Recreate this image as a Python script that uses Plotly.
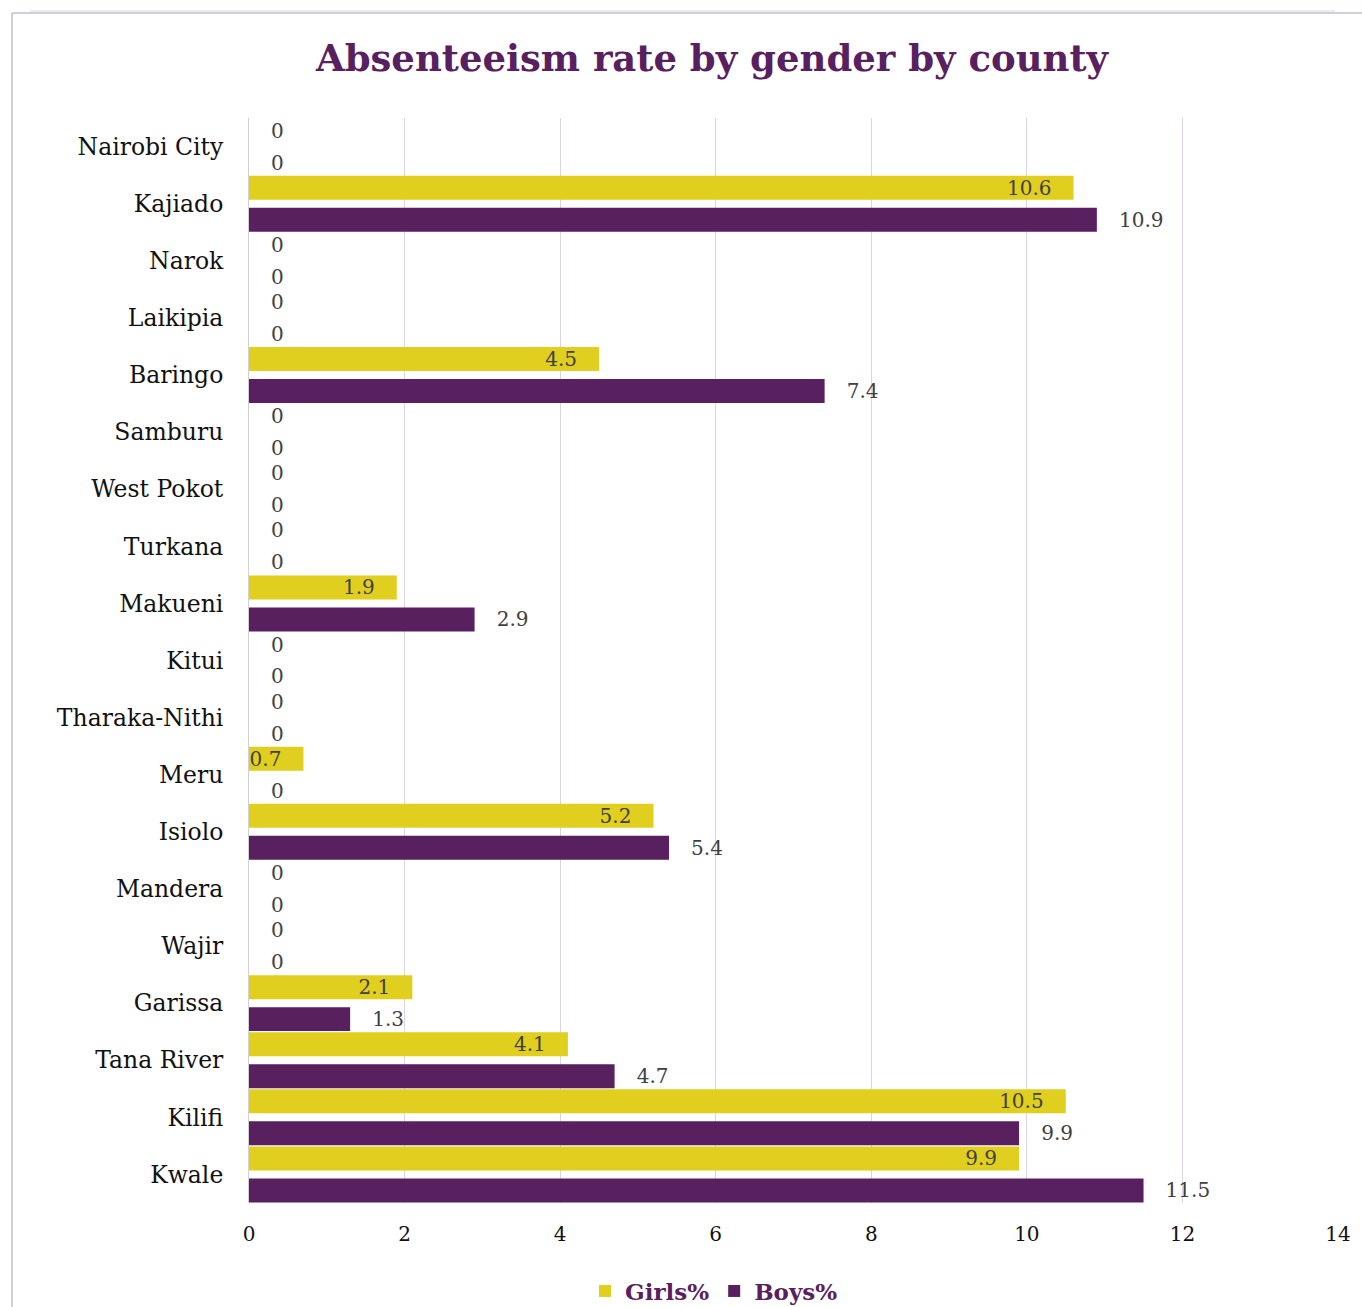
import plotly.graph_objects as go

counties = ["Nairobi City", "Kajiado", "Narok", "Laikipia", "Baringo", "Samburu",
            "West Pokot", "Turkana", "Makueni", "Kitui", "Tharaka-Nithi", "Meru",
            "Isiolo", "Mandera", "Wajir", "Garissa", "Tana River", "Kilifi", "Kwale"]
girls = [0, 10.6, 0, 0, 4.5, 0, 0, 0, 1.9, 0, 0, 0.7, 5.2, 0, 0, 2.1, 4.1, 10.5, 9.9]
boys = [0, 10.9, 0, 0, 7.4, 0, 0, 0, 2.9, 0, 0, 0, 5.4, 0, 0, 1.3, 4.7, 9.9, 11.5]
x_ticks = [0, 2, 4, 6, 8, 10, 12, 14]

YELLOW = "#E0CF1F"
PURPLE = "#58205F"
LABEL = "#404040"
SERIF = "DejaVu Serif"
NB = "\u00a0"

W, H = 1362, 1307
ML, MR, MT, MB = 249, 24, 118, 104

BAR_W = 0.42
GIRLS_OFF = -0.49
BOYS_OFF = 0.07

def fmt(v):
    return "0" if v == 0 else f"{v:g}"

girls_text = [(fmt(v) + NB * 3) if v > 0 else (NB * 3 + fmt(v)) for v in girls]
girls_pos = ["inside" if v > 0 else "outside" for v in girls]
boys_text = [NB * 3 + fmt(v) for v in boys]

lab_font = dict(family=SERIF, size=20, color=LABEL)

fig = go.Figure()
fig.add_trace(go.Bar(
    y=counties, x=girls, name="<b>Girls%</b>", orientation="h",
    width=BAR_W, offset=GIRLS_OFF,
    marker=dict(color=YELLOW, line=dict(width=0)),
    text=girls_text, textposition=girls_pos, insidetextanchor="end",
    textangle=0, constraintext="none",
    textfont=lab_font, insidetextfont=lab_font, outsidetextfont=lab_font,
    cliponaxis=False,
))
fig.add_trace(go.Bar(
    y=counties, x=boys, name="<b>Boys%</b>", orientation="h",
    width=BAR_W, offset=BOYS_OFF,
    marker=dict(color=PURPLE, line=dict(width=0)),
    text=boys_text, textposition="outside", textangle=0, constraintext="none",
    textfont=lab_font, outsidetextfont=lab_font,
    cliponaxis=False,
))

pw = W - ML - MR
ph = H - MT - MB
def px_x(p):
    return (p - ML) / pw
def px_y(p):
    return (H - MB - p) / ph

fig.update_layout(
    width=W, height=H,
    margin=dict(l=ML, r=MR, t=MT, b=MB, pad=0, autoexpand=False),
    paper_bgcolor="white", plot_bgcolor="white",
    barmode="overlay",
    title=dict(text="<b>Absenteeism rate by gender by county</b>",
               x=712 / W, xref="container", xanchor="center",
               y=1 - 58 / H, yref="container", yanchor="middle",
               font=dict(family=SERIF, size=37, color=PURPLE)),
    xaxis=dict(range=[0, 14], tickvals=x_ticks, showgrid=True,
               gridcolor="#DDD3DF", gridwidth=1, zeroline=False,
               showline=False, ticks="", ticklabelstandoff=17,
               tickfont=dict(family=SERIF, size=20, color="#111111")),
    yaxis=dict(categoryorder="array", categoryarray=counties, autorange="reversed",
               showgrid=False, showline=True, linecolor="#D0D0D0", linewidth=1,
               ticks="", ticklabelstandoff=20,
               tickfont=dict(family=SERIF, size=23.5, color="#111111")),
    legend=dict(orientation="h", xref="container", yref="container",
                x=714 / W, y=1 - 1291 / H, xanchor="center", yanchor="middle",
                font=dict(family=SERIF, size=23, color=PURPLE),
                itemwidth=30, tracegroupgap=0),
    showlegend=True,
    shapes=[
        dict(type="line", xref="paper", yref="paper",
             x0=px_x(12), x1=px_x(1362), y0=px_y(13), y1=px_y(13),
             line=dict(color="#C9BCCD", width=1.5)),
        dict(type="line", xref="paper", yref="paper",
             x0=px_x(30), x1=px_x(1335), y0=px_y(11), y1=px_y(11),
             line=dict(color="#D8D8D8", width=1)),
        dict(type="line", xref="paper", yref="paper",
             x0=px_x(12), x1=px_x(12), y0=px_y(13), y1=px_y(1307),
             line=dict(color="#C9BCCD", width=1.5)),
    ],
)

fig.write_html("out.html")
